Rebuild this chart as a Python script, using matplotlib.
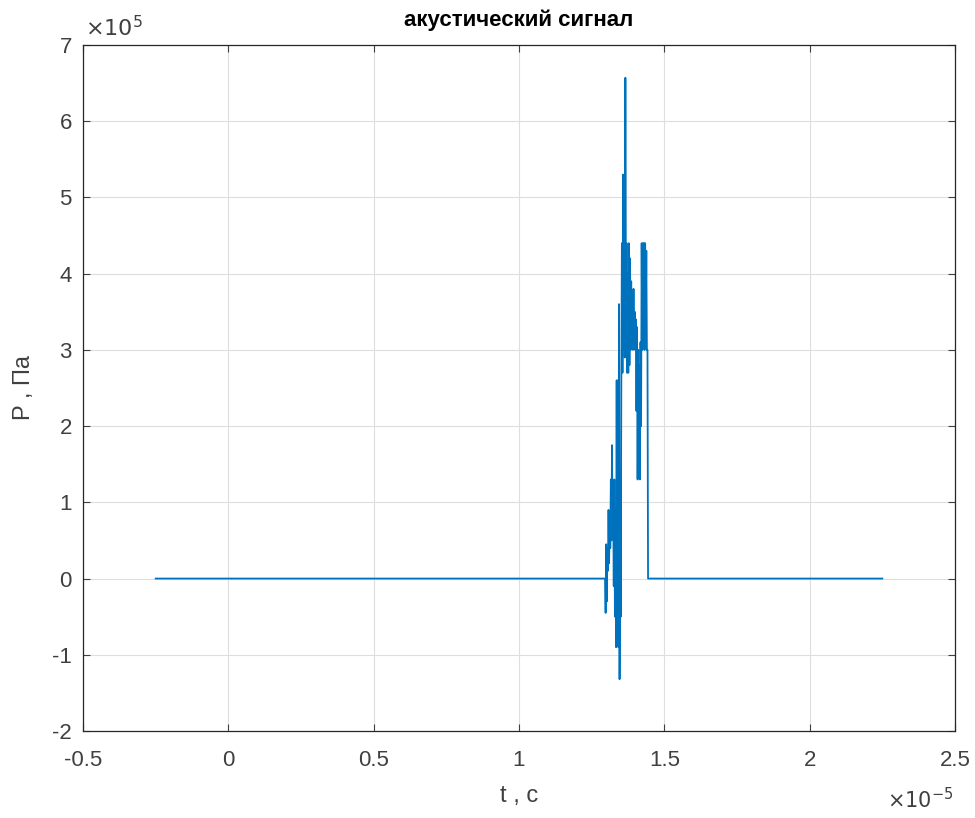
import numpy as np
import matplotlib
matplotlib.use("Agg")
import matplotlib.pyplot as plt

# --- data (time in 1e-5 s, pressure in 1e5 Pa) ---
t_start = -0.25
t_end = 2.25
burst_t0 = 1.298
burst_dt = 0.002
burst_p = [
    -0.45, 0.45, -0.30, 0.40,
    0.10, 0.90, 0.20, 0.85, 0.40,
    1.30, 0.50, 1.75, 0.60,
    1.05, -0.10, 1.30, -0.50, 0.90,
    -0.90, 2.60, -0.85, 2.60, -0.90, 3.60, -1.32,
    1.30, -0.50, 2.60, 4.40,
    2.70, 5.30, 3.00, 4.80, 2.90, 6.57, 3.50, 4.40,
    2.70, 4.00, 2.70, 4.40, 2.80, 4.20, 3.00, 3.90,
    3.10, 3.70, 3.00, 3.80, 3.10, 3.50, 3.00, 3.40, 2.20, 3.30,
    1.30, 3.00, 1.40, 2.80, 1.30, 3.10, 2.00,
    4.40, 3.00, 4.40, 3.10, 4.40, 3.00, 4.40, 3.20, 4.30,
    3.00, 3.00, 0.00,
]
burst_t = [burst_t0 + burst_dt * i for i in range(len(burst_p))]

t = [t_start, burst_t0 - burst_dt] + burst_t + [t_end]
p = [0.0, 0.0] + burst_p + [0.0]

title = "акустический сигнал"
xlabel = "t , c"
ylabel = "P , Па"
xticks = [-0.5, 0, 0.5, 1, 1.5, 2, 2.5]
yticks = [-2, -1, 0, 1, 2, 3, 4, 5, 6, 7]

plt.rcParams['font.family'] = ['Liberation Sans', 'DejaVu Sans']
fig = plt.figure(figsize=(9.75, 8.18), dpi=100)
ax = fig.add_axes([83/975, 1-731/818, (955-83)/975, (731-45)/818])

ax.plot(t, p, color='#0072BD', linewidth=1.3)
ax.set_xlim(-0.5, 2.5)
ax.set_ylim(-2, 7)
ax.set_xticks(xticks)
ax.set_yticks(yticks)
ax.set_xticklabels([f"{v:g}" for v in xticks])
ax.set_yticklabels([f"{v:g}" for v in yticks])

tc = '#404040'
ax.grid(True, color='#dedede', linewidth=0.8)
ax.set_axisbelow(True)
ax.tick_params(direction='in', length=5, width=0.8, colors=tc, labelsize=16,
               top=True, right=True)
ax.tick_params(axis='x', pad=14)
ax.tick_params(axis='y', pad=8)
for s in ax.spines.values():
    s.set_color('#262626')
    s.set_linewidth(0.9)

ax.set_title(title, fontsize=16, fontweight='bold', color='black', pad=14)
ax.set_xlabel(xlabel, fontsize=17, color=tc, labelpad=10)
ax.set_ylabel(ylabel, fontsize=17, color=tc, labelpad=12)

ax.text(0.002, 1.006, r"$\times10^{5}$", transform=ax.transAxes, fontsize=16,
        color=tc, ha='left', va='bottom', math_fontfamily='dejavusans')
ax.text(0.998, -0.082, r"$\times10^{-5}$", transform=ax.transAxes, fontsize=15,
        color=tc, ha='right', va='top', math_fontfamily='dejavusans')

fig.savefig("out.png", dpi=100)
